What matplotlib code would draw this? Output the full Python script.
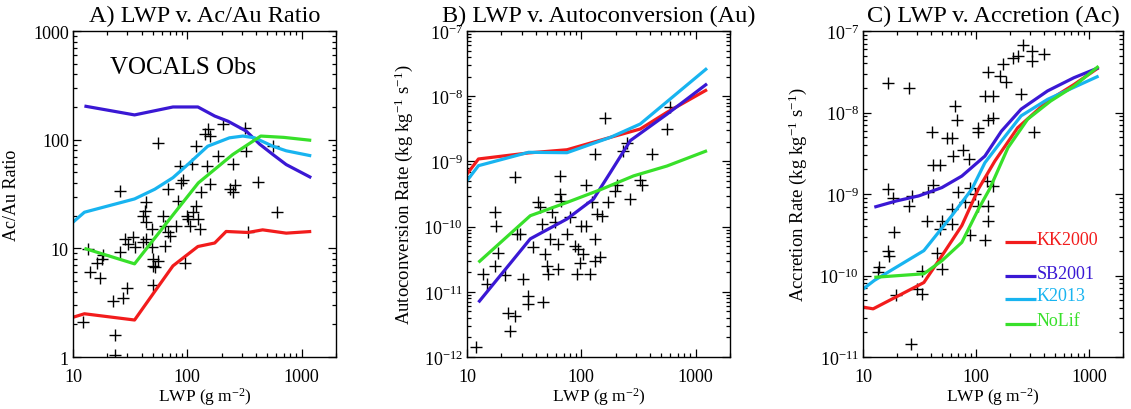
import matplotlib
matplotlib.use("Agg")
import matplotlib.pyplot as plt

plt.rcParams['font.family'] = ['Liberation Serif', 'DejaVu Serif']
plt.rcParams['mathtext.fontset'] = 'custom'
plt.rcParams['mathtext.rm'] = 'Liberation Serif'
plt.rcParams['mathtext.it'] = 'Liberation Serif:italic'
plt.rcParams['mathtext.bf'] = 'Liberation Serif:bold'

# colours of the four schemes
RED = '#f21c1c'
BLUE = '#3a18d4'
CYAN = '#18b4f0'
GREEN = '#38e02a'

# tick values
lwp_ticks = [10, 100, 1000]
lwp_ticklabels = ['10', '100', '1000']
ratio_ticks = [1, 10, 100, 1000]
ratio_ticklabels = ['1', '10', '100', '1000']
au_ticks = [1e-12, 1e-11, 1e-10, 1e-9, 1e-8, 1e-7]
ac_ticks = [1e-11, 1e-10, 1e-9, 1e-8, 1e-7]

# ---------------- Panel A: Ac/Au ratio ----------------
a_obs_lwp = [12.3, 23.3, 23.3, 22.5, 27.6, 29.5, 14.1, 17.2, 16.1, 17.8,
             18.4, 13.6, 25.7, 25.7, 28.5, 30.5, 33.8, 35, 41, 44,
             41, 42.6, 44, 44, 49, 50.5, 50.5, 52, 55.7, 50.5,
             49, 55.7, 61.7, 63.5, 68, 68, 63.5, 70.5, 80, 83,
             86, 92, 89, 95, 99, 102, 105, 109, 113, 120,
             120, 125, 133, 129, 143, 148, 151, 157, 157, 186,
             206, 250, 236, 250, 260, 318, 330, 340, 420, 605, 560]
a_obs_ratio = [2.08, 1.6, 1.05, 3.3, 3.5, 4.3, 6.0, 5.3, 7.4, 8.0,
               8.6, 9.9, 34, 9.2, 12.2, 11, 12.6, 10.2, 11.4, 12.2,
               20, 22, 26.5, 17.4, 10.2, 8.0, 6.9, 6.7, 7.7, 4.6,
               15, 94, 20, 16, 35, 14, 10.5, 13, 16, 27.5,
               57, 43, 40, 7.4, 20, 18.6, 16, 60, 21.5, 88,
               24.6, 18.6, 33, 15, 112, 57, 126, 109, 39.5, 71,
               139, 60, 35, 33, 38, 129, 79, 14, 41, 21.5, 87]

a_kk_lwp = [10, 12.6, 34.6, 53.6, 75, 124, 174, 219, 339, 457, 735, 1217]
a_kk = [2.32, 2.5, 2.19, 4.2, 6.9, 10.4, 11.2, 14.3, 14.0, 14.8, 13.8, 14.3]
a_sb_lwp = [12.6, 34.6, 75, 124, 174, 227, 328, 430, 562, 735, 1217]
a_sb = [204, 169, 200, 200, 165, 148, 120, 91, 73, 59, 44.7]
a_k13_lwp = [10, 12.6, 34.6, 52, 75, 101, 151, 234, 307, 389, 562, 735, 1217]
a_k13 = [17.4, 21.5, 28.5, 35, 44.7, 59, 87, 104, 108, 104, 87, 79, 71]
a_nl_lwp = [12.6, 34.6, 75, 125, 250, 440, 700, 1217]
a_nl = [10, 7.2, 20.3, 40, 73, 108, 105, 98.6]

# ---------------- Panel B: autoconversion ----------------
b_obs_lwp = [12, 13.9, 14.9, 17.6, 17.9, 17.6, 18.8, 21.5, 22.9, 23.8,
             26.3, 26.3, 27.2, 29.1, 31, 34.4, 34.4, 38, 42, 43.5,
             45, 46.5, 48, 49.8, 53.2, 51.4, 55, 59, 63, 65,
             65, 67, 63, 74.5, 80, 88, 91, 94, 97, 100,
             104, 111, 111, 119, 123, 132, 132, 132, 136, 146,
             151, 161, 172, 197, 204, 233, 249, 266, 326, 337,
             412, 557, 597]
b_obs_rate = [1.4e-12, 1.87e-11, 1.32e-11, 1.66e-10, 1.03e-10, 2.5e-11, 4.0e-11, 1.78e-11, 4.8e-12, 2.5e-12,
              4.3e-12, 5.7e-10, 7.7e-11, 7.7e-11, 1.6e-11, 8.7e-12, 6.5e-12, 4.8e-11, 2.35e-10, 2.0e-10,
              1.1e-10, 6.9e-12, 3.8e-11, 2.5e-11, 6.5e-11, 1.9e-11, 1.66e-10, 1.16e-10, 5.4e-11, 6.0e-10,
              3.16e-10, 2.5e-10, 2.2e-11, 7.7e-11, 1.4e-10, 5.1e-11, 1.86e-11, 4.6e-11, 2.8e-11, 1.03e-10,
              3.8e-11, 1.03e-10, 4.3e-10, 1.86e-11, 2.35e-10, 6.5e-11, 3.0e-11, 1.3e-9, 1.55e-10, 3.4e-11,
              1.47e-10, 4.7e-9, 2.35e-10, 3.5e-10, 4.3e-10, 1.46e-9, 1.95e-9, 2.65e-10, 5.1e-10, 4.3e-10,
              1.3e-9, 3.16e-9, 6.8e-9]

b_kk_lwp = [10, 12.6, 34.6, 75, 180, 328, 562, 1260]
b_kk = [6.4e-10, 1.09e-9, 1.35e-9, 1.51e-9, 2.34e-9, 3.14e-9, 5.66e-9, 1.26e-8]
b_sb_lwp = [12.6, 35.8, 75, 128, 180, 269, 562, 1260]
b_sb = [6.9e-12, 6.5e-11, 1.31e-10, 2.65e-10, 6.8e-10, 2.09e-9, 5.3e-9, 1.55e-8]
b_k13_lwp = [10, 12.6, 34.6, 75, 180, 328, 1260]
b_k13 = [5.06e-10, 8.6e-10, 1.38e-9, 1.36e-9, 2.34e-9, 3.75e-9, 2.68e-8]
b_nl_lwp = [12.6, 35.8, 75, 147, 287, 562, 1260]
b_nl = [2.83e-11, 1.47e-10, 2.35e-10, 3.68e-10, 6.0e-10, 8.5e-10, 1.46e-9]

# ---------------- Panel C: accretion ----------------
c_obs_lwp = [16.6, 25.6, 65.5, 67.8, 41, 55, 61, 77, 63, 42,
             48, 86, 105, 105, 128, 142, 120, 141, 128, 162,
             185, 173, 212, 234, 259, 316, 316, 401, 251, 328,
             16.6, 18.3, 27.4, 38, 42, 89, 70, 124, 141, 25.6,
             18.9, 16.6, 17.1, 14, 13.5, 19.6, 30, 33.5, 26.5, 33.5,
             37, 50, 48, 61, 45, 50, 61, 80, 89, 120,
             128, 128, 98.6, 105]
c_obs_rate = [2.3e-8, 1.98e-8, 1.2e-8, 8.2e-9, 5.7e-9, 4.9e-9, 4.9e-9, 3.5e-9, 2.9e-9, 2.3e-9,
              2.3e-9, 2.7e-9, 6.5e-9, 5.7e-9, 8.2e-9, 8.6e-9, 1.6e-8, 1.6e-8, 3.1e-8, 2.8e-8,
              2.4e-8, 3.9e-8, 4.7e-8, 4.9e-8, 6.7e-8, 5.7e-8, 4.3e-8, 5.2e-8, 1.67e-8, 5.7e-9,
              1.14e-9, 9e-10, 9.4e-10, 1.05e-9, 1.3e-9, 1.2e-9, 1.05e-9, 1.45e-9, 1.26e-9, 7.2e-10,
              3.4e-10, 2e-10, 1.75e-10, 1.26e-10, 1.1e-10, 5.7e-11, 6.8e-11, 5.9e-11, 1.44e-11, 1.15e-10,
              4.7e-10, 4.7e-10, 3.7e-10, 4.3e-10, 1.9e-10, 1.2e-10, 6.5e-10, 8e-10, 3.1e-10, 2.7e-10,
              4.7e-10, 7.2e-10, 1.0e-9, 7.2e-10]

c_kk_lwp = [10, 12.3, 34.6, 50, 75, 105, 147, 234, 430, 735, 1217]
c_kk = [4.1e-11, 3.9e-11, 8.2e-11, 1.75e-10, 4.1e-10, 1.15e-9, 2.54e-9, 6.5e-9, 1.38e-8, 2.2e-8, 3.55e-8]
c_sb_lwp = [12.6, 19.6, 31.3, 50, 75, 120, 168, 251, 430, 735, 1217]
c_sb = [6.9e-10, 8.2e-10, 9.5e-10, 1.2e-9, 1.66e-9, 2.92e-9, 5.9e-9, 1.1e-8, 1.84e-8, 2.67e-8, 3.55e-8]
c_k13_lwp = [10, 12.6, 34.6, 61, 92, 120, 168, 251, 430, 1217]
c_k13 = [6.8e-11, 8.7e-11, 2.02e-10, 5.4e-10, 1.15e-9, 2.42e-9, 4.47e-9, 9.1e-9, 1.45e-8, 2.8e-8]
c_nl_lwp = [12.6, 34.6, 50, 75, 105, 132, 192, 287, 457, 735, 1217]
c_nl = [9.5e-11, 1.05e-10, 1.52e-10, 2.55e-10, 6.5e-10, 1.15e-9, 3.7e-9, 8.3e-9, 1.38e-8, 2.1e-8, 3.7e-8]

scheme_names = ['KK2000', 'SB2001', 'K2013', 'NoLif']
scheme_colors = [RED, BLUE, CYAN, GREEN]

fig = plt.figure(figsize=(11.31, 4.10), dpi=100)
axA = fig.add_axes([0.0645, 0.1268, 0.2325, 0.7951])
axB = fig.add_axes([0.4129, 0.1268, 0.2325, 0.7951])
axC = fig.add_axes([0.7630, 0.1268, 0.2299, 0.7951])


def style_axis(ax):
    ax.set_xscale('log')
    ax.set_yscale('log')
    ax.set_xlim(10, 2000)
    ax.tick_params(which='both', direction='in', top=True, right=True,
                   color='black', width=0.9)
    ax.tick_params(which='major', length=5.5, labelsize=13, pad=3)
    ax.tick_params(which='minor', length=2.8)
    ax.tick_params(axis='x', which='major', pad=8)
    ax.set_xticks(lwp_ticks)
    ax.set_xticklabels(lwp_ticklabels)
    for s in ax.spines.values():
        s.set_linewidth(1.0)
    ax.set_xlabel('LWP (g m$^{-2}$)', fontsize=12.5, labelpad=0)


def draw(ax, obs_x, obs_y, lines):
    ax.plot(obs_x, obs_y, '+', color='black', markersize=8.5, mew=1.0)
    for (lx, ly), col in zip(lines, scheme_colors):
        ax.plot(lx, ly, '-', color=col, lw=2.3, solid_capstyle='butt')


# Panel A
style_axis(axA)
draw(axA, a_obs_lwp, a_obs_ratio,
     [(a_kk_lwp, a_kk), (a_sb_lwp, a_sb), (a_k13_lwp, a_k13), (a_nl_lwp, a_nl)])
axA.set_ylim(1, 1000)
axA.set_yticks(ratio_ticks)
axA.set_yticklabels(ratio_ticklabels)
axA.set_title('A) LWP v. Ac/Au Ratio', fontsize=17.5, pad=7)
axA.set_ylabel('Ac/Au Ratio', fontsize=13)
axA.yaxis.set_label_coords(-0.2, 0.5)
axA.text(0.14, 0.871, 'VOCALS Obs', transform=axA.transAxes, fontsize=18,
         va='baseline')

# Panel B
style_axis(axB)
draw(axB, b_obs_lwp, b_obs_rate,
     [(b_kk_lwp, b_kk), (b_sb_lwp, b_sb), (b_k13_lwp, b_k13), (b_nl_lwp, b_nl)])
axB.set_yticks(au_ticks)
axB.set_ylim(1e-12, 1e-7)
axB.set_title('B) LWP v. Autoconversion (Au)', fontsize=17.5, pad=7)
axB.set_ylabel('Autoconversion Rate (kg kg$^{-1}$ s$^{-1}$)', fontsize=13.5)
axB.yaxis.set_label_coords(-0.198, 0.5)

# Panel C
style_axis(axC)
draw(axC, c_obs_lwp, c_obs_rate,
     [(c_kk_lwp, c_kk), (c_sb_lwp, c_sb), (c_k13_lwp, c_k13), (c_nl_lwp, c_nl)])
axC.set_yticks(ac_ticks)
axC.set_ylim(1e-11, 1e-7)
axC.set_title('C) LWP v. Accretion (Ac)', fontsize=17.5, pad=7)
axC.set_ylabel('Accretion Rate (kg kg$^{-1}$ s$^{-1}$)', fontsize=13.5)
axC.yaxis.set_label_coords(-0.208, 0.5)

# hand-made legend in panel C
leg_y = [0.352, 0.247, 0.178, 0.101]
for name, col, yy in zip(scheme_names, scheme_colors, leg_y):
    axC.plot([0.545, 0.667], [yy, yy], color=col, lw=2.3,
             transform=axC.transAxes, solid_capstyle='butt')
    axC.text(0.668, yy - 0.004, name, color=col, fontsize=13,
             transform=axC.transAxes, va='baseline', ha='left')

fig.savefig('out.png', dpi=100)
